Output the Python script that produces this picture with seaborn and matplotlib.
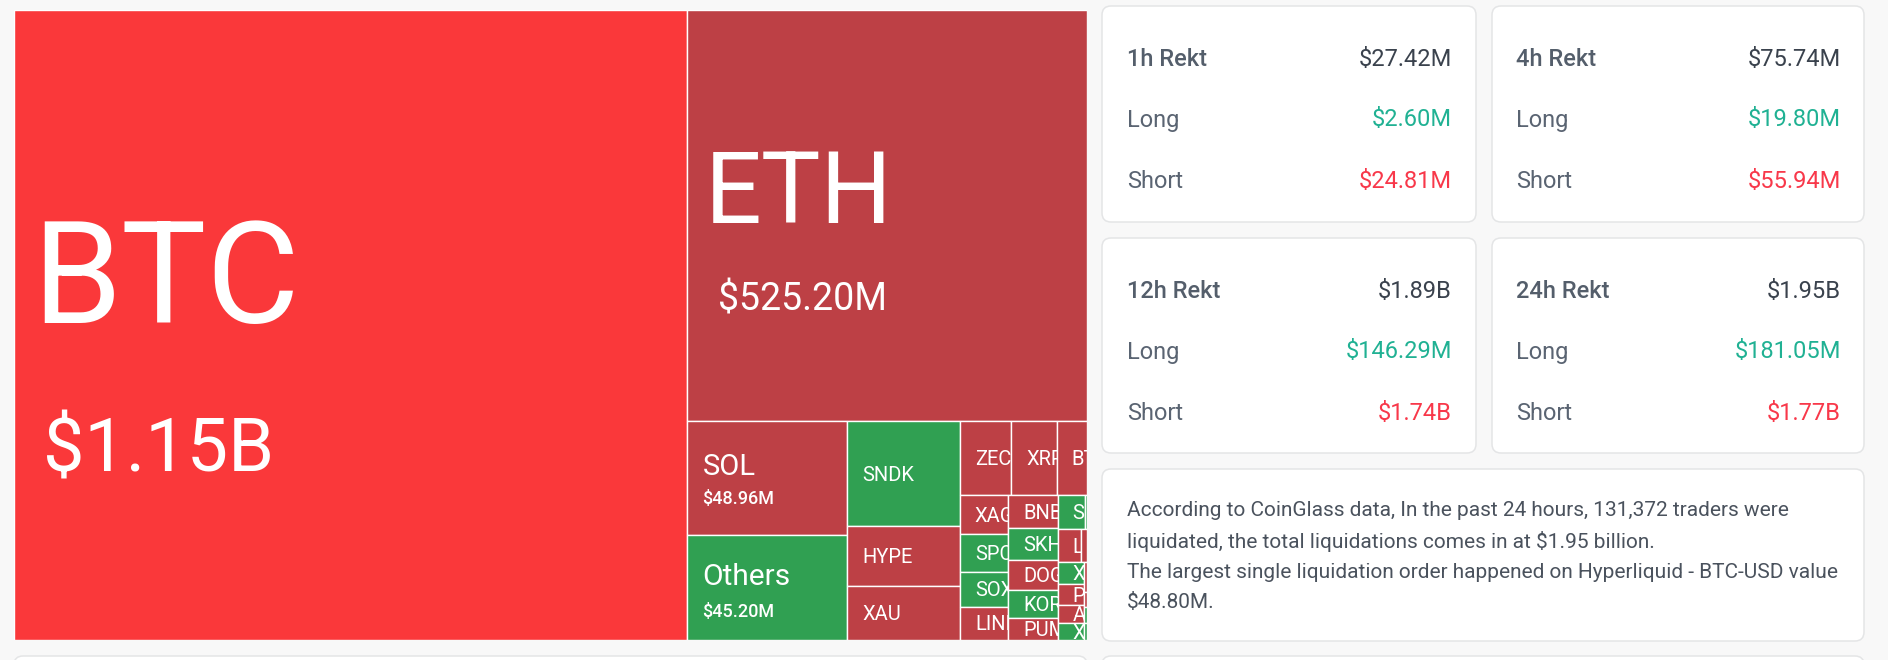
import matplotlib
matplotlib.use("Agg")
import matplotlib.pyplot as plt
from matplotlib.patches import FancyBboxPatch, Rectangle
import seaborn as sns

# treemap cells, sizes are share of the map (per 10000)
cell_ids = ["BTC", "ETH", "SOL", "Others", "SNDK", "HYPE", "XAU",
            "ZEC", "XRP", "BT", "XAG", "SPC", "SOX", "LINK",
            "BNB", "SKH", "DOGE", "KOR", "PUMP",
            "S", "s2", "L", "l2", "X", "P", "A", "X2",
            "t1", "t2", "t3", "t4"]
cell_sizes = [6277, 2432, 269, 247, 174, 100, 91,
              56, 50, 33, 28, 27, 25, 24,
              24, 23, 22, 20, 16,
              13.8, 1.0, 11.7, 2.7, 8.6, 8.2, 7.1, 6.5,
              1.3, 0.7, 0.7, 0.75]
cell_labels = ["BTC", "ETH", "SOL", "Others", "SNDK", "HYPE", "XAU",
               "ZEC", "XRP", "BT", "XAG", "SPC", "SOX", "LINK",
               "BNB", "SKH", "DOGE", "KOR", "PUMP",
               "S", "", "L", "", "X", "P", "A", "X",
               "", "", "", ""]
cell_up = ["S", "s2", "X", "X2", "KOR", "SKH", "SPC", "SOX", "SNDK", "Others", "t3", "t4"]
cell_values = {"BTC": "$1.15B", "ETH": "$525.20M", "SOL": "$48.96M", "Others": "$45.20M"}

# nesting of the map, splits alternate across / down
cell_tree = ["BTC", ["ETH", [["SOL", "Others"], ["SNDK", "HYPE", "XAU"],
             [["ZEC", "XRP", "BT"],
              [["XAG", "SPC", "SOX", "LINK"], ["BNB", "SKH", "DOGE", "KOR", "PUMP"],
               [["S", "s2"], ["L", "l2"], [["X", "P", "A", "X2"], ["t1", "t2", "t3", "t4"]]]]]]]]

windows = ["1h Rekt", "4h Rekt", "12h Rekt", "24h Rekt"]
totals = ["$27.42M", "$75.74M", "$1.89B", "$1.95B"]
longs = ["$2.60M", "$19.80M", "$146.29M", "$181.05M"]
shorts = ["$24.81M", "$55.94M", "$1.74B", "$1.77B"]
row_names = ["Long", "Short"]
summary = ["According to CoinGlass data, In the past 24 hours, 131,372 traders were",
           "liquidated, the total liquidations comes in at $1.95 billion.",
           "The largest single liquidation order happened on Hyperliquid - BTC-USD value",
           "$48.80M."]

sns.set_theme(style="white")
plt.rcParams["font.family"] = ["Roboto", "DejaVu Sans"]
BTC_RED, DOWN, UP = sns.color_palette(["#fa383a", "#bd4045", "#30a052"])
BG = "#f8f8f8"

fig = plt.figure(figsize=(18.88, 6.6), dpi=100, facecolor=BG)

# page layer in pixels, for the cards
page = fig.add_axes([0, 0, 1, 1])
page.set_xlim(0, 1888)
page.set_ylim(660, 0)
page.axis("off")


def card(x0, y0, x1, y1):
    page.add_patch(FancyBboxPatch((x0, y0), x1 - x0, y1 - y0,
                                  boxstyle="round,pad=0,rounding_size=9",
                                  fc="white", ec="#e4e5e6", lw=1.1))


card_x = [(1102, 1476), (1492, 1864)]
card_y = [(6, 222), (238, 453)]
text_y = [(60, 120, 182), (291, 352, 414)]
text_x = [(1127, 1452), (1516, 1841)]
for i in range(4):
    col, row = i % 2, i // 2
    card(card_x[col][0], card_y[row][0], card_x[col][1], card_y[row][1])
    xl, xr = text_x[col]
    y0, y1, y2 = text_y[row]
    page.text(xl, y0, windows[i], fontsize=17, fontweight="medium", color="#545e6b", va="center")
    page.text(xr, y0, totals[i], fontsize=17, color="#3a424d", va="center", ha="right")
    page.text(xl, y1, row_names[0], fontsize=17, color="#5a6472", va="center")
    page.text(xr, y1, longs[i], fontsize=17, color="#20b193", va="center", ha="right")
    page.text(xl, y2, row_names[1], fontsize=17, color="#5a6472", va="center")
    page.text(xr, y2, shorts[i], fontsize=17, color="#f8384a", va="center", ha="right")

card(1102, 469, 1864, 641)
for line, y in zip(summary, [511, 541.5, 572, 603]):
    page.text(1127, y, line, fontsize=15, color="#4a525d", va="center")

# tops of the next row of cards
card(14, 656, 1087, 720)
card(1102, 656, 1864, 720)

# treemap layer, 0-1 on both axes
MAP_X, MAP_Y, MAP_W, MAP_H = 14, 10, 1073, 630
ax = fig.add_axes([MAP_X / 1888, 1 - (MAP_Y + MAP_H) / 660, MAP_W / 1888, MAP_H / 660])
ax.set_xlim(0, 1)
ax.set_ylim(1, 0)
ax.axis("off")
sns.despine(ax=ax, left=True, bottom=True)

size_of = dict(zip(cell_ids, cell_sizes))
boxes = {}


def total(node):
    if isinstance(node, str):
        return size_of[node]
    return sum(total(n) for n in node)


def split(node, x, y, w, h, across=True):
    if isinstance(node, str):
        boxes[node] = (x, y, w, h)
        return
    whole = total(node)
    for child in node:
        part = total(child) / whole
        if across:
            split(child, x, y, w * part, h, False)
            x += w * part
        else:
            split(child, x, y, w, h * part, True)
            y += h * part


split(cell_tree, 0, 0, 1, 1)

# name size, name dx, name dy, value size, value dx, value dy (px from cell left / centre)
big_labels = {"BTC": (103, 18, -41, 53, 29, 126),
              "ETH": (72, 17, -20, 27, 31, 84),
              "SOL": (21, 15, -11, 13, 15, 21),
              "Others": (21.5, 15, -11, 13, 15, 24)}

for cid, label in zip(cell_ids, cell_labels):
    x, y, w, h = boxes[cid]
    color = BTC_RED if cid == "BTC" else (UP if cid in cell_up else DOWN)
    rect = Rectangle((x, y), w, h, fc=color, ec="white", lw=1.0)
    ax.add_patch(rect)
    if not label:
        continue
    name_fs, dx, dy, val_fs, val_dx, val_dy = big_labels.get(cid, (14.5, 15, 1.5, 0, 0, 0))
    yc = y + h / 2
    t = ax.text(x + dx / MAP_W, yc + dy / MAP_H, label, fontsize=name_fs, color="white",
                va="center", clip_on=True)
    t.set_clip_path(rect)
    if cid in cell_values:
        ax.text(x + val_dx / MAP_W, yc + val_dy / MAP_H, cell_values[cid], fontsize=val_fs,
                fontweight="medium" if val_fs < 20 else "normal", color="white", va="center")

fig.savefig("out.png", dpi=100, facecolor=BG)
